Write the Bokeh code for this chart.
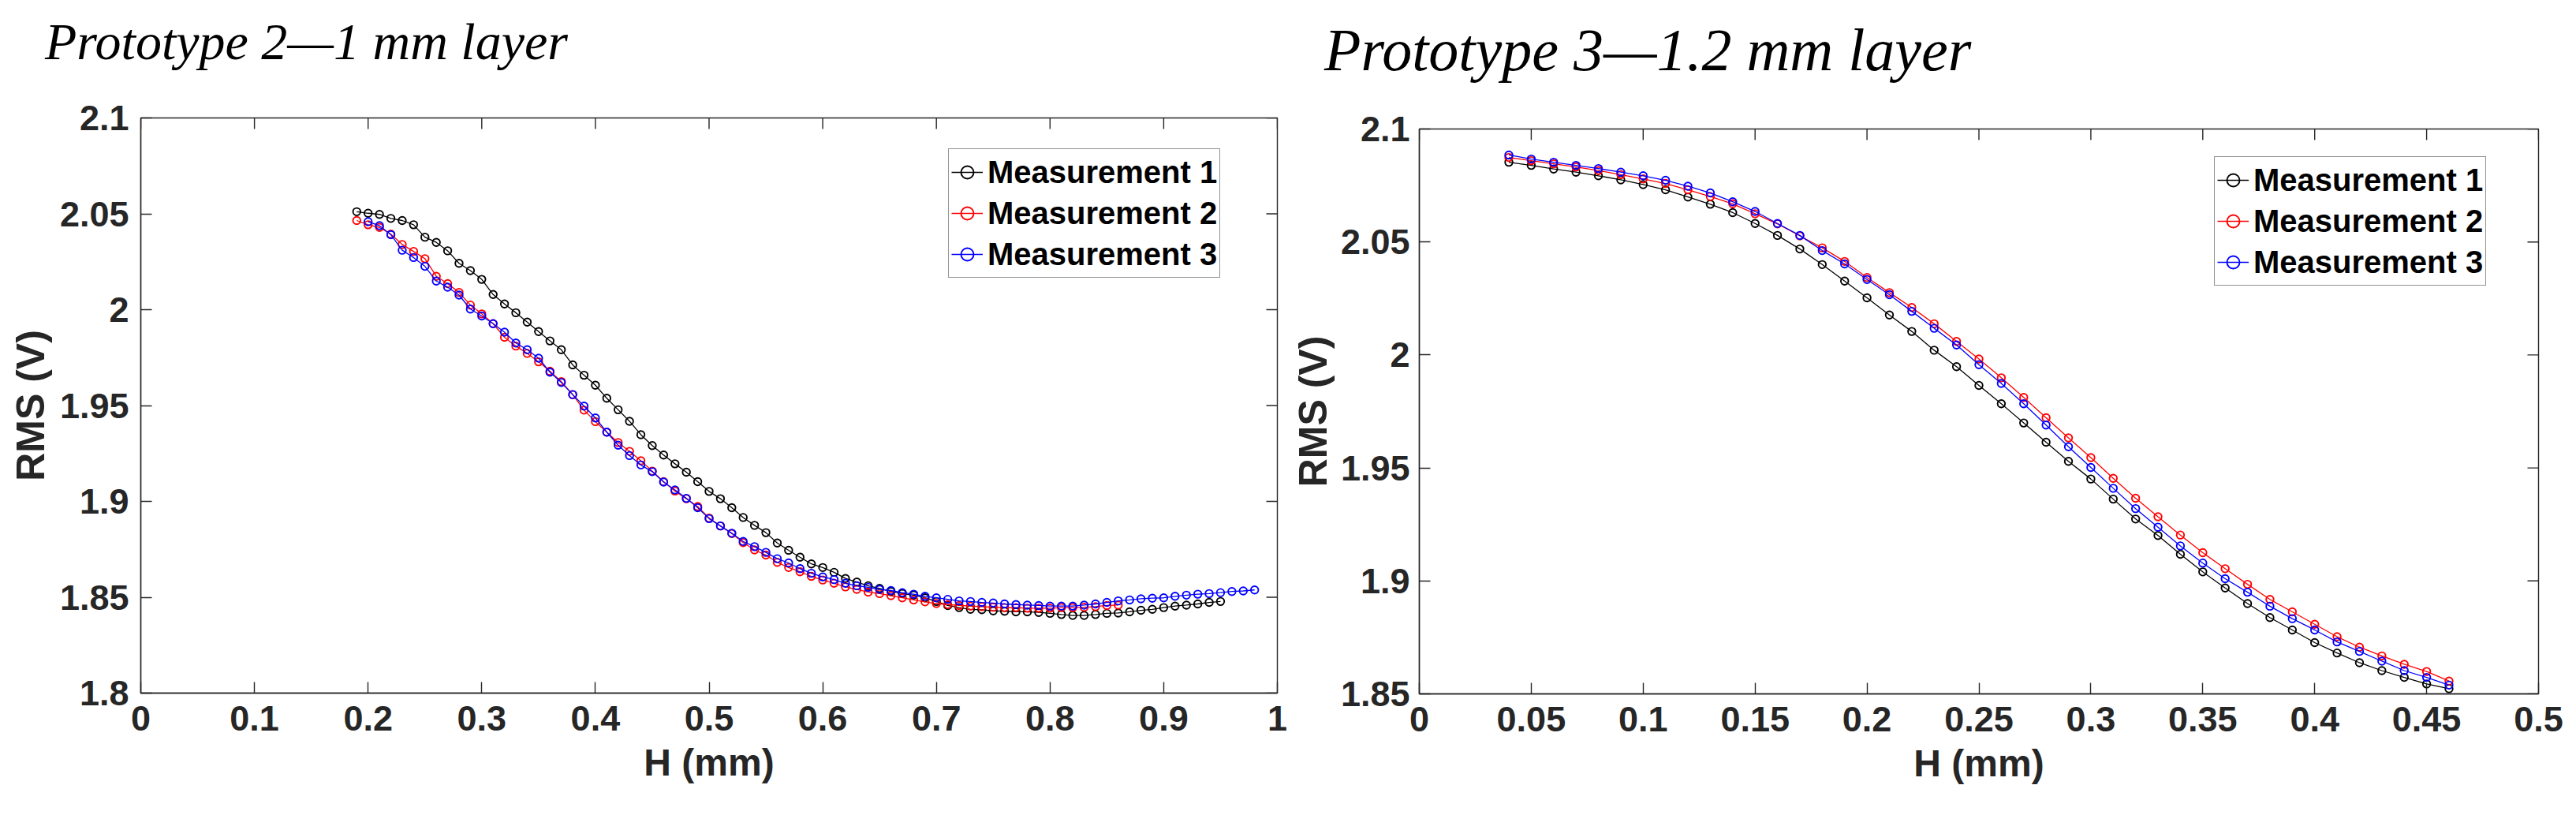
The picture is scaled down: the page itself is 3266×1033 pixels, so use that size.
from bokeh.plotting import figure
from bokeh.layouts import row, column
from bokeh.models import (Range1d, FixedTicker, Legend, LegendItem, Div,
                          CustomJSTickFormatter)
from bokeh.embed import file_html
from bokeh.resources import INLINE
import numpy as np

# ---------------- data: Prototype 2 (1 mm layer) ----------------
p2_h1 = np.round(np.arange(19, 96) / 100, 2)
p2_m1 = [2.0511, 2.0503, 2.0497, 2.0476, 2.0465, 2.0443, 2.0378, 2.0351, 2.0307, 2.0242,
         2.0204, 2.0158, 2.0079, 2.0030, 1.9984, 1.9935, 1.9886, 1.9837, 1.9791, 1.9712,
         1.9658, 1.9606, 1.9538, 1.9478, 1.9418, 1.9348, 1.9291, 1.9242, 1.9196, 1.9152,
         1.9103, 1.9052, 1.9014, 1.8967, 1.8916, 1.8875, 1.8837, 1.8783, 1.8745, 1.8709,
         1.8674, 1.8655, 1.8630, 1.8598, 1.8579, 1.8560, 1.8546, 1.8530, 1.8519, 1.8511,
         1.8497, 1.8478, 1.8457, 1.8446, 1.8437, 1.8435, 1.8429, 1.8427, 1.8424, 1.8424,
         1.8421, 1.8416, 1.8410, 1.8405, 1.8405, 1.8410, 1.8416, 1.8418, 1.8424, 1.8432,
         1.8437, 1.8446, 1.8454, 1.8459, 1.8465, 1.8473, 1.8478]
p2_h2 = np.round(np.arange(19, 87) / 100, 2)
p2_m2 = [2.0465, 2.0443, 2.0429, 2.0394, 2.0340, 2.0304, 2.0266, 2.0174, 2.0136, 2.0090,
         2.0024, 1.9978, 1.9927, 1.9856, 1.9810, 1.9772, 1.9728, 1.9679, 1.9625, 1.9557,
         1.9476, 1.9416, 1.9361, 1.9307, 1.9261, 1.9212, 1.9158, 1.9103, 1.9054, 1.9014,
         1.8973, 1.8913, 1.8872, 1.8832, 1.8785, 1.8747, 1.8720, 1.8682, 1.8655, 1.8633,
         1.8609, 1.8590, 1.8573, 1.8554, 1.8541, 1.8527, 1.8519, 1.8508, 1.8497, 1.8486,
         1.8476, 1.8467, 1.8462, 1.8457, 1.8454, 1.8451, 1.8448, 1.8446, 1.8446, 1.8443,
         1.8443, 1.8443, 1.8446, 1.8446, 1.8448, 1.8451, 1.8457, 1.8459]
p2_h3 = np.round(np.arange(20, 99) / 100, 2)
p2_m3 = [2.0459, 2.0438, 2.0391, 2.0310, 2.0272, 2.0226, 2.0149, 2.0117, 2.0076, 2.0003,
         1.9967, 1.9927, 1.9883, 1.9826, 1.9791, 1.9747, 1.9674, 1.9620, 1.9557, 1.9497,
         1.9435, 1.9361, 1.9293, 1.9239, 1.9190, 1.9155, 1.9101, 1.9060, 1.9016, 1.8967,
         1.8910, 1.8872, 1.8834, 1.8791, 1.8764, 1.8734, 1.8701, 1.8679, 1.8649, 1.8625,
         1.8606, 1.8592, 1.8573, 1.8560, 1.8552, 1.8541, 1.8535, 1.8524, 1.8516, 1.8505,
         1.8497, 1.8489, 1.8481, 1.8478, 1.8473, 1.8470, 1.8465, 1.8462, 1.8459, 1.8457,
         1.8454, 1.8454, 1.8454, 1.8459, 1.8465, 1.8473, 1.8481, 1.8486, 1.8492, 1.8495,
         1.8497, 1.8505, 1.8511, 1.8516, 1.8519, 1.8524, 1.8530, 1.8533, 1.8538]

# ---------------- data: Prototype 3 (1.2 mm layer) ----------------
p3_h = np.round(np.arange(4, 47) / 100, 2)
p3_m1 = [2.0853, 2.0839, 2.0823, 2.0809, 2.0793, 2.0775, 2.0754, 2.0731, 2.0699, 2.0667,
         2.0630, 2.0582, 2.0529, 2.0469, 2.0400, 2.0327, 2.0253, 2.0177, 2.0104, 2.0021,
         1.9948, 1.9865, 1.9784, 1.9699, 1.9614, 1.9529, 1.9451, 1.9362, 1.9274, 1.9201,
         1.9118, 1.9040, 1.8969, 1.8900, 1.8838, 1.8783, 1.8727, 1.8681, 1.8638, 1.8603,
         1.8573, 1.8544, 1.8523]
p3_m2 = [2.0874, 2.0860, 2.0846, 2.0832, 2.0816, 2.0798, 2.0779, 2.0759, 2.0731, 2.0701,
         2.0669, 2.0625, 2.0580, 2.0527, 2.0474, 2.0414, 2.0343, 2.0276, 2.0210, 2.0138,
         2.0060, 1.9982, 1.9899, 1.9812, 1.9722, 1.9633, 1.9546, 1.9454, 1.9366, 1.9284,
         1.9203, 1.9125, 1.9054, 1.8985, 1.8918, 1.8863, 1.8808, 1.8753, 1.8707, 1.8668,
         1.8631, 1.8599, 1.8557]
p3_m3 = [2.0885, 2.0867, 2.0853, 2.0839, 2.0825, 2.0809, 2.0793, 2.0773, 2.0747, 2.0717,
         2.0678, 2.0635, 2.0582, 2.0529, 2.0462, 2.0403, 2.0334, 2.0267, 2.0193, 2.0118,
         2.0044, 1.9957, 1.9874, 1.9784, 1.9690, 1.9594, 1.9502, 1.9410, 1.9320, 1.9238,
         1.9155, 1.9079, 1.9010, 1.8950, 1.8888, 1.8833, 1.8783, 1.8730, 1.8688, 1.8645,
         1.8603, 1.8573, 1.8539]

# ---------------- ticks / labels ----------------
p2_xticks = [0, 0.1, 0.2, 0.3, 0.4, 0.5, 0.6, 0.7, 0.8, 0.9, 1.0]
p2_yticks = [1.8, 1.85, 1.9, 1.95, 2.0, 2.05, 2.1]
p3_xticks = [0, 0.05, 0.1, 0.15, 0.2, 0.25, 0.3, 0.35, 0.4, 0.45, 0.5]
p3_yticks = [1.85, 1.9, 1.95, 2.0, 2.05, 2.1]
series_names = ["Measurement 1", "Measurement 2", "Measurement 3"]
series_colors = ["#000000", "#ff0000", "#0000ff"]
titles = ["Prototype 2\u20141 mm layer", "Prototype 3\u20141.2 mm layer"]
x_label = "H (mm)"
y_label = "RMS (V)"

AX = "#262626"
SANS = "Liberation Sans"
SERIF = "Liberation Serif"


def style_axis(ax, ticks, tick_standoff):
    ax.ticker = FixedTicker(ticks=ticks)
    ax.formatter = CustomJSTickFormatter(code="return Number(tick.toFixed(3)).toString();")
    ax.major_tick_in = 14
    ax.major_tick_out = 0
    ax.minor_tick_line_color = None
    ax.axis_line_color = AX
    ax.axis_line_width = 1.4
    ax.major_tick_line_color = AX
    ax.major_tick_line_width = 1.4
    ax.major_label_text_font = SANS
    ax.major_label_text_font_style = "bold"
    ax.major_label_text_color = AX
    ax.major_label_text_font_size = "45px"
    ax.major_label_standoff = tick_standoff


def make_panel(xr, yr, xticks, yticks, data, frame, borders, legend_loc,
               ylab_standoff, ytick_standoff):
    fw, fh = frame
    bl, br, bt, bb = borders
    p = figure(frame_width=fw, frame_height=fh,
               x_range=Range1d(*xr), y_range=Range1d(*yr),
               output_backend="svg", toolbar_location=None,
               min_border_left=bl, min_border_right=br,
               min_border_top=bt, min_border_bottom=bb)
    p.frame_align = False
    p.background_fill_color = "white"
    p.border_fill_color = "white"
    p.outline_line_color = AX
    p.outline_line_width = 1.4
    p.xgrid.visible = False
    p.ygrid.visible = False

    style_axis(p.xaxis[0], xticks, 16)
    style_axis(p.yaxis[0], yticks, ytick_standoff)
    for ax in (p.xaxis[0], p.yaxis[0]):
        ax.axis_label_text_font = SANS
        ax.axis_label_text_font_style = "bold"
        ax.axis_label_text_color = AX
    p.xaxis[0].axis_label = x_label
    p.xaxis[0].axis_label_text_font_size = "48px"
    p.xaxis[0].axis_label_standoff = 11
    p.yaxis[0].axis_label = y_label
    p.yaxis[0].axis_label_text_font_size = "50px"
    p.yaxis[0].axis_label_standoff = ylab_standoff

    # inward ticks on the top and right edges of the box (half of each dash is clipped)
    p.scatter(xticks, [yr[1]] * len(xticks), marker="dash", angle=np.pi / 2, size=28,
              line_color=AX, line_width=1.4)
    p.scatter([xr[1]] * len(yticks), yticks, marker="dash", size=28,
              line_color=AX, line_width=1.4)

    items = []
    for (hx, vals), name, col in zip(data, series_names, series_colors):
        ln = p.line(hx, vals, line_color=col, line_width=1.3)
        sc = p.scatter(hx, vals, marker="circle", size=9.5, fill_color=None,
                       line_color=col, line_width=1.9)
        items.append(LegendItem(label=name, renderers=[ln, sc]))

    leg = Legend(items=items, location=legend_loc)
    leg.label_text_font = SANS
    leg.label_text_font_style = "bold"
    leg.label_text_font_size = "40px"
    leg.label_text_color = "#000000"
    leg.glyph_width = 40
    leg.glyph_height = 52
    leg.label_height = 52
    leg.spacing = 0
    leg.padding = 3
    leg.margin = 0
    leg.label_standoff = 6
    leg.border_line_color = AX
    leg.border_line_width = 1.4
    leg.background_fill_color = "white"
    p.add_layout(leg, "center")
    return p


def make_title(text, width, size, line_h, indent):
    # line box height == div height; baseline position set through line-height
    return Div(text=text, width=width, height=line_h, margin=0,
               styles={"font-family": SERIF, "font-style": "italic",
                       "font-size": f"{size}px", "line-height": f"{line_h}px",
                       "text-indent": f"{indent}px", "color": "#000000",
                       "white-space": "nowrap", "overflow": "visible"})


# left column: title 104 px + figure (45 + 729 + 155) = 1033
p_left = make_panel((0, 1), (1.8, 2.1), p2_xticks, p2_yticks,
                    [(p2_h1, p2_m1), (p2_h2, p2_m2), (p2_h3, p2_m3)],
                    (1441, 729), (178, 14, 45, 155), (1024, 526), 6, 15)
# right column: title 127 px + figure (36 + 716 + 154) = 1033
p_right = make_panel((0, 0.5), (1.85, 2.1), p3_xticks, p3_yticks,
                     [(p3_h, p3_m1), (p3_h, p3_m2), (p3_h, p3_m3)],
                     (1419, 716), (161, 53, 36, 154), (1008, 517), 4, 12)

t_left = make_title(titles[0], 1633, 66, 106, 57)
t_right = make_title(titles[1], 1633, 76, 127, 46)

# keep the figure top borders consistent with the title heights
p_left.min_border_top = 149 - 106

layout = row(column(t_left, p_left), column(t_right, p_right))
open("out.html", "w").write(file_html(layout, INLINE))
